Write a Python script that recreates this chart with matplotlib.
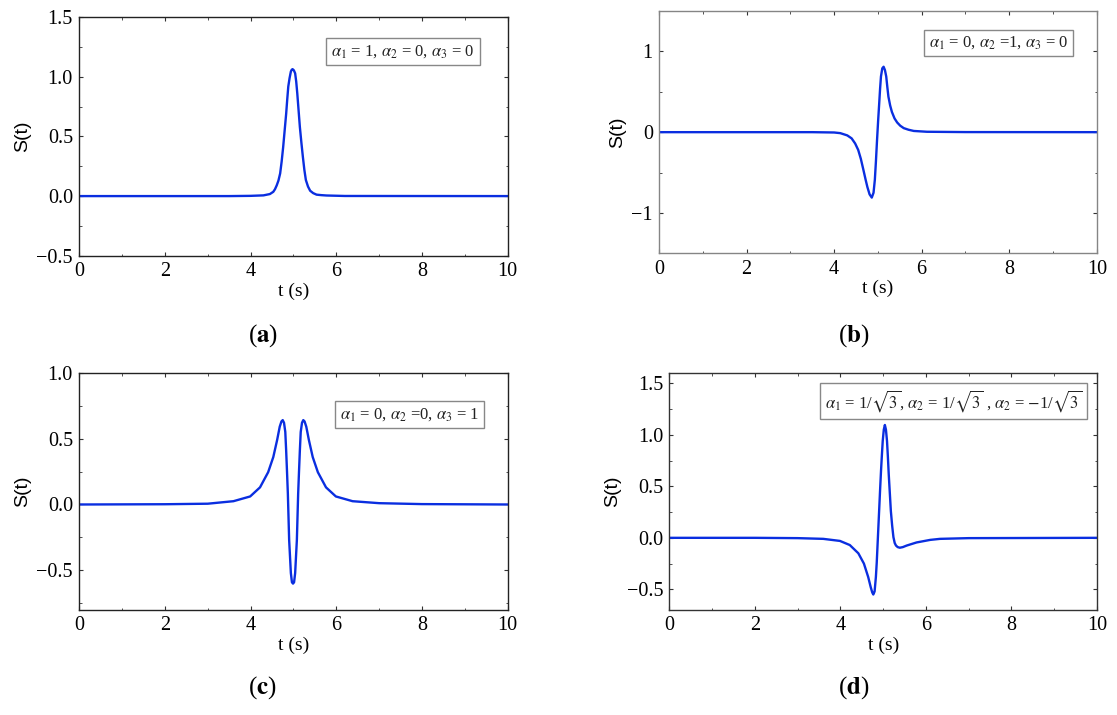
import matplotlib
matplotlib.use('Agg')
import matplotlib.pyplot as plt
from matplotlib.ticker import MultipleLocator

plt.rcParams['font.family'] = ['Liberation Serif', 'DejaVu Serif']
plt.rcParams['mathtext.fontset'] = 'stix'

# values (t in s, S(t))
t_a = [0, 3.5, 4.0, 4.3, 4.45, 4.53, 4.57, 4.61, 4.65, 4.69, 4.725, 4.76, 4.795, 4.83,
       4.855, 4.88, 4.91, 4.94, 4.96, 4.98, 5.01, 5.04, 5.065, 5.09, 5.12, 5.15, 5.185,
       5.22, 5.255, 5.29, 5.34, 5.39, 5.46, 5.54, 5.65, 5.77, 6.2, 10]
s_a = [0, 0.0, 0.002, 0.006, 0.017, 0.036, 0.058, 0.09, 0.13, 0.19, 0.29, 0.41, 0.55, 0.69,
       0.81, 0.92, 0.99, 1.045, 1.06, 1.065, 1.055, 1.03, 0.96, 0.86, 0.72, 0.58, 0.45,
       0.33, 0.22, 0.135, 0.08, 0.045, 0.025, 0.012, 0.008, 0.005, 0.001, 0]

t_b = [0, 3.5, 4.0, 4.14, 4.3, 4.40, 4.48, 4.55, 4.61, 4.67, 4.72, 4.76, 4.81, 4.86, 4.90,
       4.93, 4.955, 4.98, 5.005, 5.03, 5.05, 5.07, 5.10, 5.13, 5.16, 5.19, 5.215, 5.24,
       5.28, 5.32, 5.38, 5.44, 5.51, 5.59, 5.7, 5.82, 6.12, 7, 10]
s_b = [0, 0, -0.004, -0.012, -0.04, -0.077, -0.14, -0.22, -0.33, -0.47, -0.59, -0.68,
       -0.77, -0.81, -0.75, -0.59, -0.36, -0.10, 0.14, 0.36, 0.54, 0.69, 0.79, 0.81, 0.77,
       0.69, 0.56, 0.44, 0.33, 0.25, 0.17, 0.12, 0.08, 0.05, 0.03, 0.015, 0.005, 0.001, 0]

t_c = [0, 2, 3, 3.6, 3.99, 4.22, 4.41, 4.53, 4.62, 4.68, 4.72, 4.75, 4.78, 4.81, 4.83,
       4.85, 4.87, 4.90, 4.94, 4.965, 4.99, 5.015, 5.04, 5.08, 5.11, 5.13, 5.15, 5.17,
       5.20, 5.23, 5.26, 5.30, 5.36, 5.45, 5.57, 5.76, 5.99, 6.38, 7, 8, 10]
s_c = [0, 0.002, 0.006, 0.025, 0.061, 0.13, 0.245, 0.36, 0.49, 0.59, 0.63, 0.64, 0.62,
       0.55, 0.41, 0.25, 0.08, -0.27, -0.52, -0.59, -0.60, -0.59, -0.52, -0.27, 0.08, 0.25,
       0.41, 0.55, 0.62, 0.64, 0.63, 0.59, 0.49, 0.36, 0.245, 0.13, 0.061, 0.025, 0.01,
       0.003, 0]

t_d = [0, 2, 3, 3.6, 3.99, 4.22, 4.42, 4.55, 4.65, 4.71, 4.745, 4.77, 4.80, 4.83, 4.85,
       4.87, 4.89, 4.91, 4.93, 4.95, 4.97, 4.99, 5.015, 5.04, 5.065, 5.09, 5.11, 5.13,
       5.155, 5.18, 5.21, 5.24, 5.27, 5.30, 5.34, 5.39, 5.46, 5.55, 5.78, 6.1, 6.33, 7, 10]
s_d = [0, 0, -0.003, -0.01, -0.03, -0.07, -0.15, -0.25, -0.38, -0.48, -0.53, -0.55, -0.52,
       -0.38, -0.24, -0.06, 0.12, 0.30, 0.48, 0.65, 0.80, 0.94, 1.05, 1.095, 1.05, 0.94,
       0.79, 0.62, 0.44, 0.26, 0.12, 0.007, -0.05, -0.075, -0.09, -0.096, -0.09, -0.075,
       -0.045, -0.02, -0.01, -0.003, 0]

notes = [r'$\alpha_1$ = 1, $\alpha_2$ = 0, $\alpha_3$ = 0',
         r'$\alpha_1$ = 0, $\alpha_2$ =1, $\alpha_3$ = 0',
         r'$\alpha_1$ = 0, $\alpha_2$ =0, $\alpha_3$ = 1',
         r'$\alpha_1$ = 1/$\sqrt{3}$, $\alpha_2$ = 1/$\sqrt{3}$ , $\alpha_2$ = $-$1/$\sqrt{3}$']
tags = ['a', 'b', 'c', 'd']

fig = plt.figure(figsize=(11.17, 7.15), dpi=100)

rects = [[0.0709, 0.6424, 0.3836, 0.3334],
         [0.5900, 0.6457, 0.3919, 0.3389],
         [0.0709, 0.1469, 0.3836, 0.3319],
         [0.5992, 0.1469, 0.3829, 0.3315]]
ylims = [(-0.5, 1.5), (-1.5, 1.5), (-0.8, 1.0), (-0.7, 1.6)]
ymaj = [0.5, 1.0, 0.5, 0.5]
ymin = [0.25, 0.5, 0.25, 0.25]
spine_col = ['#222222', '#858585', '#222222', '#333333']
box_xy = [(0.923, 0.893), (0.935, 0.903), (0.933, 0.860), (0.966, 0.935)]
tag_xy = [(263, 336), (854, 336), (262, 688), (854, 688)]
data = [(t_a, s_a), (t_b, s_b), (t_c, s_c), (t_d, s_d)]

for i in range(4):
    ax = fig.add_axes(rects[i])
    t, s = data[i]
    ax.plot(t, s, color='#0a2ee0', lw=1.7)
    ax.set_xlim(0, 10)
    ax.set_ylim(*ylims[i])
    ax.xaxis.set_major_locator(MultipleLocator(2))
    ax.xaxis.set_minor_locator(MultipleLocator(1))
    ax.yaxis.set_major_locator(MultipleLocator(ymaj[i]))
    ax.yaxis.set_minor_locator(MultipleLocator(ymin[i]))
    ax.tick_params(which='both', direction='in', top=True, right=True, labelsize=14.5,
                   color='#333333', pad=4.5)
    ax.tick_params(which='major', length=3.2)
    ax.tick_params(which='minor', length=1.8)
    for sp in ax.spines.values():
        sp.set_color(spine_col[i])
        sp.set_linewidth(1.0)
    ax.set_xlabel('t (s)', fontsize=14, labelpad=1)
    ax.set_ylabel('S(t)', fontsize=14, family='Liberation Sans', labelpad=4)
    ax.text(box_xy[i][0], box_xy[i][1], notes[i], transform=ax.transAxes,
            ha='right', va='top', fontsize=12, color='#222222',
            bbox=dict(boxstyle='square,pad=0.3', fc='white', ec='#888888', lw=1.0))
    fig.text(tag_xy[i][0] / 1117, 1 - tag_xy[i][1] / 715,
             '(' + r'$\mathbf{' + tags[i] + '}$' + ')',
             ha='center', va='center', fontsize=18)

fig.savefig('out.png', dpi=100)
